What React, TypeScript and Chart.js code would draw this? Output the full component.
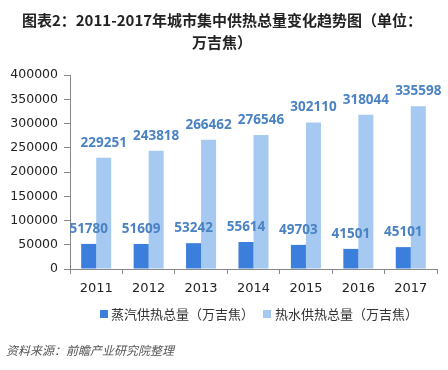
import React, { useEffect, useRef } from "react";
import { Chart, registerables } from "chart.js";

Chart.register(...registerables);

const years = ["2011", "2012", "2013", "2014", "2015", "2016", "2017"];
const steamValues = [51780, 51609, 53242, 55614, 49703, 41501, 45101];
const hotWaterValues = [229251, 243818, 266462, 276546, 302110, 318044, 335598];
const seriesNames = ["蒸汽供热总量（万吉焦）", "热水供热总量（万吉焦）"];
const titleLines = ["图表2：2011-2017年城市集中供热总量变化趋势图（单位：", "万吉焦）"];
const sourceText = "资料来源：前瞻产业研究院整理";

const DARK = "#3b7edb";
const LIGHT = "#a6c9f2";
const LABEL = "#4a82c4";
const CJK = "'Noto Sans CJK SC', 'DejaVu Sans', sans-serif";
const NUM = "'DejaVu Sans', sans-serif";
const LBL = "'Open Sans', 'DejaVu Sans', sans-serif";

const decorPlugin = {
  id: "decor",
  afterDatasetsDraw(chart: any) {
    const ctx = chart.ctx;
    ctx.save();
    ctx.font = `bold 13.5px ${LBL}`;
    ctx.fillStyle = LABEL;
    ctx.textAlign = "center";
    ctx.textBaseline = "middle";
    chart.data.datasets.forEach((ds: any, i: number) => {
      const meta = chart.getDatasetMeta(i);
      meta.data.forEach((el: any, j: number) => {
        ctx.fillText(String(ds.data[j]), el.x, el.y - 15);
      });
    });
    ctx.restore();
  },
  afterDraw(chart: any) {
    const ctx = chart.ctx;
    ctx.save();
    ctx.fillStyle = "#222";
    ctx.font = `bold 15px ${CJK}`;
    ctx.textAlign = "center";
    ctx.textBaseline = "middle";
    ctx.fillText(titleLines[0], 222, 20);
    ctx.fillText(titleLines[1], 222, 42);
    ctx.font = `13px ${CJK}`;
    ctx.textAlign = "left";
    ctx.fillStyle = DARK;
    ctx.fillRect(100, 310, 8, 8);
    ctx.fillStyle = "#333";
    ctx.fillText(seriesNames[0], 111, 314);
    ctx.fillStyle = LIGHT;
    ctx.fillRect(263, 310, 8, 8);
    ctx.fillStyle = "#333";
    ctx.fillText(seriesNames[1], 275, 314);
    ctx.font = `italic 12px ${CJK}`;
    ctx.fillStyle = "#555";
    ctx.fillText(sourceText, 6, 350);
    ctx.restore();
  },
};

export default function App() {
  const ref = useRef<HTMLCanvasElement>(null);
  useEffect(() => {
    const chart = new Chart(ref.current!, {
      type: "bar",
      data: {
        labels: years,
        datasets: [
          {
            label: seriesNames[0],
            data: steamValues,
            backgroundColor: DARK,
            categoryPercentage: 0.573,
            barPercentage: 1,
          },
          {
            label: seriesNames[1],
            data: hotWaterValues,
            backgroundColor: LIGHT,
            categoryPercentage: 0.573,
            barPercentage: 1,
          },
        ],
      },
      options: {
        animation: false,
        responsive: false,
        maintainAspectRatio: false,
        layout: { padding: { top: 75, right: 11, left: 0, bottom: 0 } },
        plugins: {
          legend: { display: false },
          title: { display: false },
          tooltip: { enabled: false },
        },
        scales: {
          x: {
            grid: {
              display: true,
              drawOnChartArea: false,
              drawTicks: true,
              tickLength: 5,
              color: "#888",
              offset: true,
            },
            border: { display: true, color: "#888" },
            ticks: {
              color: "#222",
              font: { family: NUM, size: 13 },
              padding: 7,
            },
            afterFit(scale: any) {
              scale.height = 101;
            },
          },
          y: {
            min: 0,
            max: 400000,
            grid: {
              display: true,
              drawOnChartArea: false,
              drawTicks: true,
              tickLength: 6,
              color: "#888",
            },
            border: { display: true, color: "#888" },
            ticks: {
              stepSize: 50000,
              color: "#222",
              font: { family: NUM, size: 12.5 },
              padding: 6,
              callback: (v: any) => String(v),
            },
            afterFit(scale: any) {
              scale.width = 70;
            },
          },
        },
      },
      plugins: [decorPlugin],
    } as any);
    return () => chart.destroy();
  }, []);
  return (
    <div style={{ position: "absolute", left: 0, top: 0, width: 448, height: 370, background: "#fff" }}>
      <canvas ref={ref} width={448} height={370} style={{ width: 448, height: 370 }} />
    </div>
  );
}
